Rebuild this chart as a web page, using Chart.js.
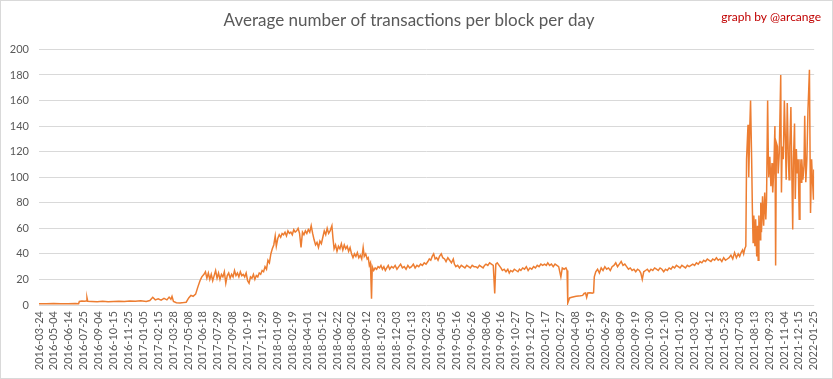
<!DOCTYPE html>
<html>
<head>
<meta charset="utf-8">
<script src="https://cdn.jsdelivr.net/npm/chart.js@4"></script>
<style>
  body { margin: 0; background: #fff; }
  #wrap { position: relative; width: 833px; height: 379px; }
  #myChart { display: block; }
  #frame { position: absolute; left: 0; top: 0; width: 833px; height: 379px; box-sizing: border-box; border: 1px solid #d9d9d9; pointer-events: none; }
</style>
</head>
<body>
<div id="wrap">
  <canvas id="myChart" width="833" height="379"></canvas>
  <div id="frame"></div>
</div>
<script>
// x axis labels, one every 41 days
const tickLabels = [
  '2016-03-24', '2016-05-04', '2016-06-14', '2016-07-25', '2016-09-04', '2016-10-15', '2016-11-25',
  '2017-01-05', '2017-02-15', '2017-03-28', '2017-05-08', '2017-06-18', '2017-07-29', '2017-09-08',
  '2017-10-19', '2017-11-29', '2018-01-09', '2018-02-19', '2018-04-01', '2018-05-12', '2018-06-22',
  '2018-08-02', '2018-09-12', '2018-10-23', '2018-12-03', '2019-01-13', '2019-02-23', '2019-04-05',
  '2019-05-16', '2019-06-26', '2019-08-06', '2019-09-16', '2019-10-27', '2019-12-07', '2020-01-17',
  '2020-02-27', '2020-04-08', '2020-05-19', '2020-06-29', '2020-08-09', '2020-09-19', '2020-10-30',
  '2020-12-10', '2021-01-20', '2021-03-02', '2021-04-12', '2021-05-23', '2021-07-03', '2021-08-13',
  '2021-09-23', '2021-11-04', '2021-12-15', '2022-01-25'
];
const tickStep = 41;

// days since 2016-03-24
const dayOffsets = [
  0, 20, 40, 60, 80, 100, 109,
  111, 118, 125, 130, 132, 134, 145, 160, 175, 190, 205, 220, 235, 250, 265, 280, 295,
  305, 313, 320, 328, 336, 344, 352, 358, 363, 366, 370, 378, 388, 398, 405, 412, 418, 424, 431, 437, 443, 448, 454,
  458, 462, 466, 470, 474, 478, 482, 486, 490, 494, 498, 502, 506, 510, 514, 518, 522, 526, 530, 534, 538, 542, 546, 550,
  554, 558, 562, 566, 570, 574, 578, 582, 586, 590, 594, 598, 602, 606, 610, 614,
  618, 622, 626, 630, 634, 638, 642, 646, 650, 653, 657, 661, 665, 669, 673, 677, 681, 685, 689, 693, 697, 701, 705, 709,
  713, 717, 721, 725, 729, 733, 737, 741, 745, 749, 753, 757, 761, 765, 769, 773, 777, 781, 785, 789, 793, 797, 801, 806,
  809, 812, 816, 820, 824, 828, 832, 836, 840, 844, 848, 852, 856, 860, 864, 868, 872, 876, 880, 884, 888, 892, 895, 899,
  903, 906, 909, 912, 915, 917, 921, 925, 929, 933, 937, 941, 945, 949, 953, 957, 961,
  965, 970, 975, 980, 985, 990, 995, 1000, 1005, 1010, 1015, 1020, 1025, 1030, 1035, 1040, 1045, 1050, 1055, 1060, 1065,
  1070, 1074, 1078, 1082, 1086, 1090, 1094, 1098, 1102, 1107, 1111, 1116, 1120, 1125, 1130, 1135, 1140, 1143, 1147, 1152,
  1157, 1162, 1167, 1172, 1177, 1182, 1187, 1192, 1197, 1202, 1207, 1212, 1217, 1222, 1226, 1230, 1235, 1240, 1245, 1250,
  1254, 1257, 1261, 1266, 1271, 1275, 1280, 1285, 1290, 1294, 1298, 1303, 1308, 1313, 1318, 1322, 1326, 1331, 1336, 1341,
  1346, 1351, 1356, 1361, 1366, 1371, 1376, 1381, 1386, 1391, 1396,
  1400, 1405, 1410, 1415, 1420, 1425, 1430, 1436, 1440, 1445, 1450, 1453, 1455, 1460, 1466, 1472, 1478, 1484, 1490, 1496,
  1500, 1504, 1507, 1510, 1516, 1522, 1526, 1528, 1532, 1537, 1542, 1547, 1552, 1557, 1562, 1567, 1572, 1577, 1582, 1587,
  1592, 1597, 1602, 1607, 1612, 1617, 1622, 1627, 1632, 1637, 1642, 1647, 1652, 1656, 1660, 1664, 1669, 1674, 1679, 1684,
  1689, 1694, 1699, 1704, 1709, 1714, 1719, 1724, 1729, 1734, 1739, 1744, 1749, 1754, 1759, 1764, 1769, 1774, 1779, 1784,
  1789, 1794, 1799, 1804, 1809, 1814, 1819, 1824, 1829, 1834, 1839, 1844, 1849, 1854, 1859, 1864, 1869, 1874, 1879, 1884,
  1889, 1894, 1899, 1904, 1909, 1914, 1919, 1924, 1928, 1932, 1936, 1939, 1942,
  1945, 1947, 1951, 1953, 1956, 1958, 1961, 1963, 1965, 1967, 1970, 1972, 1975, 1977, 1979, 1981, 1984, 1986, 1988, 1991,
  1994, 1997, 2000, 2002, 2005, 2007, 2008, 2011, 2014, 2017, 2019, 2022, 2025, 2027, 2029, 2032, 2034, 2037, 2041, 2043,
  2045, 2048, 2051, 2054, 2056, 2059, 2062, 2064, 2066, 2069, 2071, 2074, 2076, 2079, 2081, 2084, 2086, 2089, 2092, 2094,
  2097, 2099, 2102, 2105, 2107, 2110, 2113, 2116, 2118, 2120, 2123, 2126, 2128, 2131, 2132
];

// average transactions per block for each of those days
const txPerBlock = [
  1.0, 1.0, 1.1, 1.0, 1.0, 1.1, 1.0,
  2.8, 3.2, 2.9, 3.1, 5.8, 3.0, 2.8, 2.6, 2.9, 2.5, 2.8, 3.0, 2.7, 3.2, 2.9, 3.3, 2.8,
  3.5, 6.0, 4.0, 4.8, 3.8, 5.2, 4.0, 6.2, 4.5, 6.8, 2.8, 1.8, 1.6, 1.9, 2.2, 5.5, 7.5, 6.8, 8.5, 14, 19, 22, 24,
  26, 21, 25, 20, 24, 19, 23, 27, 21, 25, 20, 24, 22, 26, 17, 23, 25, 21, 24, 22, 27, 23, 25, 22,
  26, 23, 24, 22, 25, 19, 17, 22, 21, 24, 20, 23, 22, 25, 24, 27,
  26, 30, 28, 35, 33, 40, 44, 47, 54, 46, 52, 55, 53, 56, 55, 57, 54, 58, 56, 57, 55, 59, 57, 58,
  60, 56, 45, 57, 55, 58, 56, 59, 57, 62, 56, 51, 47, 49, 45, 50, 48, 53, 58, 55, 60, 56, 58, 62,
  52, 44, 47, 42, 46, 44, 48, 43, 47, 44, 46, 42, 45, 40, 37, 40, 38, 41, 37, 39, 36, 45, 38, 40,
  36, 37, 31, 33, 5, 30, 27, 29, 28, 30, 29, 31, 28, 30, 27, 29, 31,
  28, 30, 29, 31, 28, 30, 32, 29, 30, 28, 31, 29, 30, 32, 29, 31, 30, 32, 31, 33, 32,
  34, 36, 35, 38, 40, 36, 37, 35, 38, 40, 37, 36, 34, 37, 35, 33, 36, 32, 30, 31,
  29, 31, 30, 29, 31, 30, 29, 31, 30, 30, 29, 31, 30, 29, 31, 32, 31, 33, 32, 31,
  9, 32, 33, 31, 29, 27, 28, 26, 28, 25, 27, 26, 28, 27, 26, 28, 27, 29, 28, 30,
  27, 29, 28, 30, 29, 31, 30, 32, 31, 32, 31,
  33, 31, 32, 30, 32, 31, 30, 22, 29, 28, 29, 27, 1.5, 5.5, 6, 6.5, 6.8, 7, 7.2, 7.5,
  9, 9.4, 6, 9.4, 9.5, 9.3, 9.6, 22, 26, 28, 25, 29, 27, 30, 28, 29, 27, 30, 31, 33,
  30, 32, 34, 31, 32, 30, 28, 29, 27, 28, 26, 28, 27, 25, 20, 26, 27, 28, 26, 28,
  27, 29, 28, 27, 29, 28, 26, 28, 27, 29, 28, 30, 29, 31, 30, 29, 31, 30, 29, 31,
  30, 31, 32, 31, 33, 32, 34, 33, 35, 34, 36, 35, 34, 36, 35, 37, 35, 36, 34, 37,
  35, 36, 37, 39, 36, 41, 37, 40, 38, 41, 43, 40, 44,
  46, 114, 141, 100, 140, 160, 114, 75, 49, 70, 46, 67, 38, 62, 35, 70, 51, 80, 57, 85,
  62, 88, 67, 83, 160, 114, 100, 116, 93, 111, 88, 106, 140, 31, 127, 124, 103, 119, 180, 88,
  124, 114, 160, 127, 98, 158, 114, 98, 124, 155, 114, 59, 114, 142, 83, 122, 103, 114, 67, 114,
  96, 114, 98, 109, 148, 96, 114, 153, 168, 184, 72, 114, 100, 83, 106
];

const points = dayOffsets.map((d, i) => ({ x: d, y: txPerBlock[i] }));

const creditPlugin = {
  id: 'credit',
  afterDraw(chart) {
    const ctx = chart.ctx;
    ctx.save();
    ctx.font = '12px Lato';
    ctx.fillStyle = '#C00000';
    ctx.textAlign = 'right';
    ctx.textBaseline = 'middle';
    ctx.fillText('graph by @arcange', 821, 17);
    ctx.restore();
  }
};

const ctx = document.getElementById('myChart').getContext('2d');
const myChart = new Chart(ctx, {
  type: 'line',
  data: {
    datasets: [{
      label: 'Transactions per block',
      data: points,
      borderColor: '#ED7D31',
      borderWidth: 1.5,
      pointRadius: 0,
      fill: false,
      tension: 0
    }]
  },
  options: {
    responsive: false,
    animation: false,
    devicePixelRatio: 1,
    layout: { padding: { left: 0, right: 15, top: 0, bottom: 0 } },
    plugins: {
      legend: { display: false },
      tooltip: { enabled: false },
      title: {
        display: true,
        text: 'Average number of transactions per block per day',
        color: '#595959',
        font: { family: 'Lato', size: 17, weight: '400' },
        padding: { top: 10, bottom: 19 }
      }
    },
    scales: {
      x: {
        type: 'linear',
        min: 0,
        max: 2133,
        afterFit: (scale) => { scale.height = 74; },
        afterBuildTicks: (scale) => {
          scale.ticks = tickLabels.map((t, i) => ({ value: i * tickStep }));
        },
        grid: { display: false, drawTicks: false },
        border: { display: false },
        ticks: {
          autoSkip: false,
          minRotation: 90,
          maxRotation: 90,
          padding: 6,
          color: '#595959',
          font: { family: 'Lato', size: 11 },
          callback: (value, index) => tickLabels[index]
        }
      },
      y: {
        min: 0,
        max: 200,
        afterFit: (scale) => { scale.width = 39; },
        grid: { color: '#D9D9D9', drawTicks: false },
        border: { display: false },
        ticks: {
          stepSize: 20,
          padding: 10,
          color: '#595959',
          font: { family: 'Lato', size: 11 }
        }
      }
    }
  },
  plugins: [creditPlugin]
});
</script>
</body>
</html>
